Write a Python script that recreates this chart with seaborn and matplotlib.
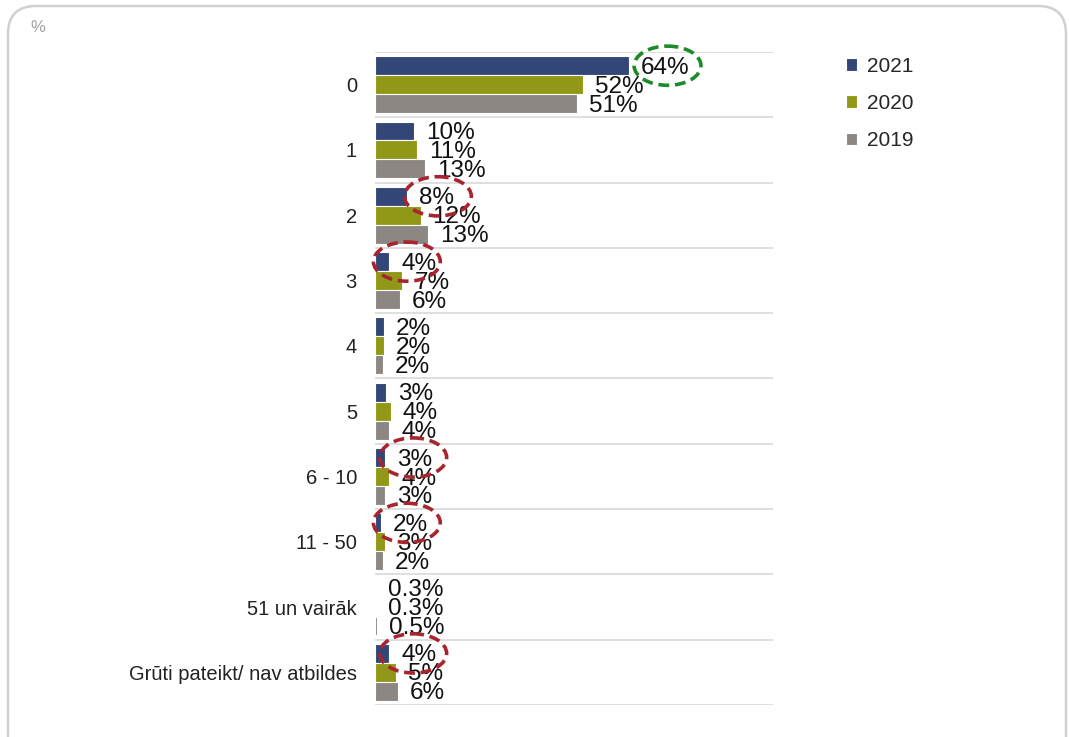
import pandas as pd
import matplotlib.pyplot as plt
import seaborn as sns
from matplotlib.patches import Ellipse, FancyBboxPatch

# Data (share of respondents, %)
categories = ['0', '1', '2', '3', '4', '5', '6 - 10', '11 - 50',
              '51 un vairāk', 'Grūti pateikt/ nav atbildes']
years = ['2021', '2020', '2019']
values_2021 = [63.9, 9.8, 8.1, 3.6, 2.3, 2.8, 2.6, 1.6, 0.3, 3.6]
values_2020 = [52.3, 10.6, 11.5, 6.9, 2.3, 3.9, 3.6, 2.6, 0.3, 5.2]
values_2019 = [50.8, 12.6, 13.4, 6.3, 2.0, 3.6, 2.6, 1.9, 0.5, 5.7]

# Labels that are circled in the original (category, year, colour)
highlights = [('0', '2021', '#1f8a2a'),
              ('2', '2021', '#a8242f'),
              ('3', '2021', '#a8242f'),
              ('6 - 10', '2021', '#a8242f'),
              ('11 - 50', '2021', '#a8242f'),
              ('Grūti pateikt/ nav atbildes', '2021', '#a8242f')]
highlight_dx = [9.6, 7.7, 4.4, 7.0, 6.4, 6.0]

df = pd.DataFrame({
    'category': categories * 3,
    'year': sum([[y] * len(categories) for y in years], []),
    'value': values_2021 + values_2020 + values_2019,
})

sns.set_theme(style='white')
plt.rcParams['font.family'] = ['Liberation Sans', 'DejaVu Sans']

palette = {'2021': '#264383', '2020': '#a5ad00', '2019': '#8f8781'}

fig = plt.figure(figsize=(10.69, 7.37), dpi=100)
ax = fig.add_axes([375 / 1069, 1 - 705 / 737, 398 / 1069, 653 / 737])

sns.barplot(data=df, y='category', x='value', hue='year', hue_order=years,
            order=categories, palette=palette, orient='h', width=0.87,
            edgecolor='white', linewidth=0.8, ax=ax)


def fmt_pct(v):
    return f'{v:.1f}%' if v < 1 else f'{round(v)}%'


for cont in ax.containers:
    for t in ax.bar_label(cont, fmt=fmt_pct, padding=8.5, fontsize=17.5, color='#111111'):
        t.xyann = (8.5, -1.5)

ax.set_xlim(0, 100)
ax.set_ylim(len(categories) - 0.5, -0.5)
ax.set_xlabel('')
ax.set_ylabel('')
ax.set_xticks([])
ax.tick_params(axis='y', length=0, pad=13, labelsize=14.5, labelcolor='#222222')
for s in ax.spines.values():
    s.set_visible(False)
for i in range(len(categories) + 1):
    ax.axhline(i - 0.5, color='#d9d9d9', lw=1.2, zorder=0)

# dashed ellipses around the highlighted labels
bar_h = 0.87 / 3
for (cat, yr, col), dx in zip(highlights, highlight_dx):
    ci = categories.index(cat)
    yi = years.index(yr)
    val = df[(df.category == cat) & (df.year == yr)]['value'].iloc[0]
    yc = ci + (yi - 1) * bar_h
    ax.add_patch(Ellipse((val + dx, yc), 16.8, 0.6, fill=False, edgecolor=col,
                         lw=2.6, linestyle=(0, (3, 1.6)), clip_on=False, zorder=5))

# legend
handles, labels = ax.get_legend_handles_labels()
ax.legend(handles, labels, loc='upper left', bbox_to_anchor=(827 / 1069, 1 - 38 / 737),
          bbox_transform=fig.transFigure, frameon=False, fontsize=15,
          handlelength=0.55, handleheight=0.55, handletextpad=0.45, labelspacing=0.88)

# rounded frame and unit label
fig.patches.append(FancyBboxPatch((8, -60), 1058, 791, boxstyle='round,pad=0,rounding_size=28',
                                  transform=None, facecolor='none', edgecolor='#d0d0d0',
                                  lw=1.8, figure=fig))
fig.text(30 / 1069, 1 - 27 / 737, '%', fontsize=12, color='#a0a0a0', va='center')

plt.savefig('out.png', dpi=100)
plt.close()
